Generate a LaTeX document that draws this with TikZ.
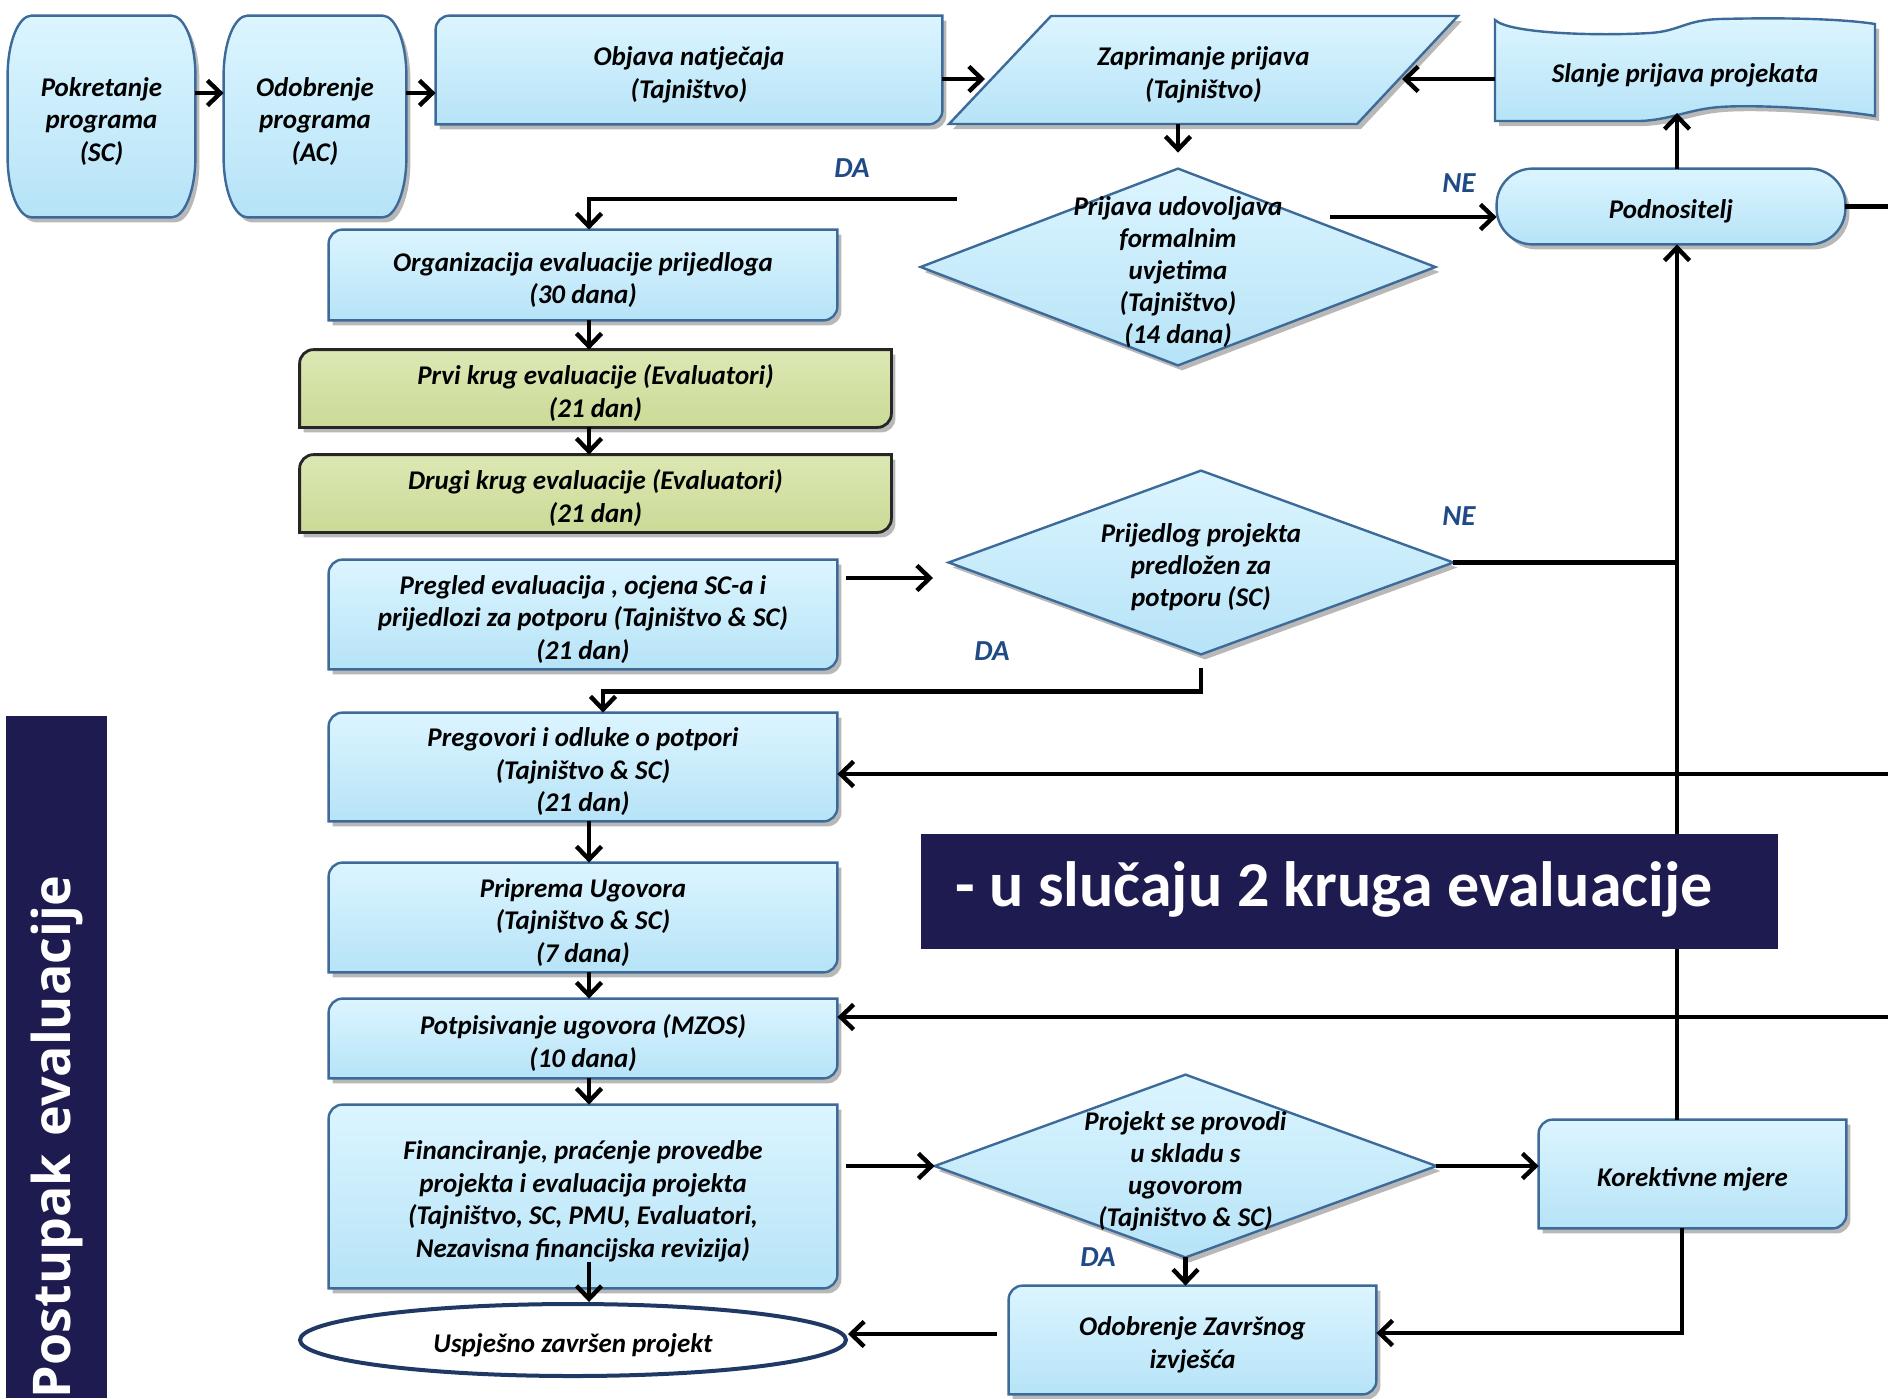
\documentclass[tikz,border=0pt]{standalone}
\usepackage{fontspec}
\setmainfont{Carlito}
\newfontfamily\bannerfont{Open Sans}
\usetikzlibrary{arrows.meta,shapes.geometric,backgrounds,calc}
\definecolor{boxtop}{HTML}{DCF5FF}
\definecolor{boxbot}{HTML}{B6E3F7}
\definecolor{boxline}{HTML}{3D6B99}
\definecolor{greentop}{HTML}{DCE8B4}
\definecolor{greenbot}{HTML}{CADA96}
\definecolor{navy}{HTML}{1E1B50}
\definecolor{labc}{HTML}{1F4A86}
\definecolor{ellline}{HTML}{1F3864}
\newcommand{\rdbox}[2]{\path[#2] ([yshift=-7pt]#1.north west) arc[start angle=180,end angle=90,radius=7pt] -- (#1.north east) -- ([yshift=7pt]#1.south east) arc[start angle=0,end angle=-90,radius=7pt] -- (#1.south west) -- cycle;}
\newcommand{\barrelbox}[2]{\path[#2] ([xshift=12pt]#1.north west) -- ([xshift=-12pt]#1.north east) arc[start angle=90,end angle=0,x radius=12pt,y radius=30pt] -- ([yshift=30pt]#1.south east) arc[start angle=0,end angle=-90,x radius=12pt,y radius=30pt] -- ([xshift=12pt]#1.south west) arc[start angle=270,end angle=180,x radius=12pt,y radius=30pt] -- ([yshift=-30pt]#1.north west) arc[start angle=180,end angle=90,x radius=12pt,y radius=30pt] -- cycle;}
\newcommand{\diabox}[2]{\path[#2] (#1.west) -- (#1.north) -- (#1.east) -- (#1.south) -- cycle;}
\newcommand{\tp}{\rule{0pt}{14.5pt}}
\begin{document}
\begin{tikzpicture}[x=0.5pt,y=-0.5pt,
  txt/.style={inner sep=0pt, align=center, font=\bfseries\itshape\fontsize{13.5}{16.25}\selectfont},
  dtxt/.style={inner sep=0pt, align=center, font=\bfseries\itshape\fontsize{13.5}{16}\selectfont},
  sh/.style={preaction={fill=black,opacity=0.28,transform canvas={xshift=2pt,yshift=-2.5pt}}},
  bluebox/.style={sh, draw=boxline, line width=1.2pt, top color=boxtop, bottom color=boxbot},
  greenbox/.style={sh, draw=black!85, line width=1.4pt, top color=greentop, bottom color=greenbot},
  arr/.style={line width=2.2pt, -{Straight Barb[length=6.5pt,width=12.5pt]}},
  ln/.style={line width=2.2pt},
  lab/.style={inner sep=0pt, text=labc, font=\bfseries\itshape\fontsize{14.5}{17}\selectfont}]
\useasboundingbox (0,0) rectangle (1888,1398);

% ---------- nodes (text) ----------
\node[txt, minimum width=93.5pt, minimum height=100.5pt] (pok) at (101.5,116.5) {\tp Pokretanje\\programa\\(SC)};
\node[txt, minimum width=91pt, minimum height=100.5pt] (odo) at (315,116.5) {\tp Odobrenje\\programa\\(AC)};
\node[txt, minimum width=253pt, minimum height=54pt] (obj) at (689,70) {\tp Objava natječaja\\(Tajništvo)};
\node[txt, minimum width=204pt, minimum height=54pt] (zap) at (1203.5,70) {\tp Zaprimanje prijava\\(Tajništvo)};
\node[txt, minimum width=190pt, minimum height=50pt] (sla) at (1685,70) {\tp Slanje prijava projekata};
\node[dtxt, minimum width=257pt, minimum height=98pt] (d1) at (1178,267) {\tp Prijava udovoljava\\formalnim\\uvjetima\\(Tajništvo)\\(14 dana)};
\node[txt, minimum width=174pt, minimum height=37.5pt] (pod) at (1671,206.5) {\tp Podnositelj};
\node[txt, minimum width=254pt, minimum height=45pt] (org) at (583,275) {\tp Organizacija evaluacije prijedloga\\(30 dana)};
\node[txt, minimum width=295.5pt, minimum height=38.5pt] (prvi) at (595.5,388.5) {\tp Prvi krug evaluacije (Evaluatori)\\(21 dan)};
\node[txt, minimum width=295.5pt, minimum height=38.5pt] (drugi) at (595.5,493.5) {\tp Drugi krug evaluacije (Evaluatori)\\(21 dan)};
\node[txt, minimum width=254pt, minimum height=54.5pt] (preg) at (583,614.5) {\tp Pregled evaluacija , ocjena SC-a i\\prijedlozi za potporu (Tajništvo \& SC)\\(21 dan)};
\node[dtxt, minimum width=252pt, minimum height=91.5pt] (d2) at (1201,562.5) {\tp Prijedlog projekta\\predložen za\\potporu (SC)};
\node[txt, minimum width=254pt, minimum height=54pt] (pregov) at (583,767) {\tp Pregovori i odluke o potpori\\(Tajništvo \& SC)\\(21 dan)};
\node[txt, minimum width=254pt, minimum height=54.5pt] (pripr) at (583,917.5) {\tp Priprema Ugovora\\(Tajništvo \& SC)\\(7 dana)};
\node[txt, minimum width=254pt, minimum height=39.5pt] (potp) at (583,1038.5) {\tp Potpisivanje ugovora (MZOS)\\(10 dana)};
\node[txt, minimum width=254pt, minimum height=91.5pt] (fin) at (583,1196.5) {\tp Financiranje, praćenje provedbe\\projekta i evaluacija projekta\\(Tajništvo, SC, PMU, Evaluatori,\\Nezavisna financijska revizija)};
\node[txt, ellipse, draw=ellline, line width=2pt, fill=white, minimum width=273pt, minimum height=36pt] (usp) at (573,1340) {\tp Uspješno završen projekt};
\node[dtxt, minimum width=250.5pt, minimum height=91pt] (d3) at (1185.5,1166) {\tp Projekt se provodi\\u skladu s\\ugovorom\\(Tajništvo \& SC)};
\node[txt, minimum width=153.5pt, minimum height=54pt] (kor) at (1692.5,1174) {\tp Korektivne mjere};
\node[txt, minimum width=183.5pt, minimum height=54pt] (zav) at (1192.5,1340) {\tp Odobrenje Završnog\\izvješća};

% ---------- shapes behind the text ----------
\begin{scope}[on background layer]
  \barrelbox{pok}{bluebox}
  \barrelbox{odo}{bluebox}
  \rdbox{obj}{bluebox}
  \path[bluebox] (1051,16) -- (1458,16) -- (1357,124) -- (949,124) -- cycle;
  \path[bluebox] (1495,20) .. controls (1510,34) and (1600,36) .. (1650,33) .. controls (1680,31) and (1685,20) .. (1720,19) .. controls (1800,17) and (1850,20) .. (1875,24) -- (1875,116) .. controls (1840,110) and (1760,104) .. (1720,107) .. controls (1690,109) and (1670,120) .. (1640,121) -- (1495,121) -- cycle;
  \diabox{d1}{bluebox}
  \path[bluebox, rounded corners=18pt] (pod.north west) rectangle (pod.south east);
  \rdbox{org}{bluebox}
  \rdbox{prvi}{greenbox}
  \rdbox{drugi}{greenbox}
  \rdbox{preg}{bluebox}
  \diabox{d2}{bluebox}
  \rdbox{pregov}{bluebox}
  \rdbox{pripr}{bluebox}
  \rdbox{potp}{bluebox}
  \rdbox{fin}{bluebox}
  \diabox{d3}{bluebox}
  \rdbox{kor}{bluebox}
  \rdbox{zav}{bluebox}
\end{scope}

% ---------- connectors ----------
\coordinate (colx) at (589,0);
\coordinate (vline) at (1677,0);
\draw[arr] (pok.east |- 0,93) -- (odo.west |- 0,93);
\draw[arr] (odo.east |- 0,93) -- (obj.west |- 0,93);
\coordinate (zapW) at (985,79);
\coordinate (zapE) at (1402,79);
\draw[arr] (obj.east |- zapW) -- (zapW);
\draw[arr] (sla.west |- zapE) -- (zapE);
\draw[arr] (d1.north |- zap.south) -- ([yshift=8pt]d1.north);
\coordinate (daS) at (957,199);
\draw[arr] (daS) -| (org.north -| colx);
\coordinate (neS) at (1330,217);
\draw[arr] (neS) -- (pod.west |- neS);
\coordinate (slaB) at (1677,113);
\draw[arr] (pod.north -| vline) -- (slaB);
\coordinate (podR) at (1888,206.5);
\draw[ln] (pod.east) -- (podR);
\draw[arr] (kor.north -| vline) -- (pod.south -| vline);
\draw[ln] (d2.east) -- (d2.east -| vline);
\draw[arr] (org.south -| colx) -- (prvi.north -| colx);
\draw[arr] (prvi.south -| colx) -- (drugi.north -| colx);
\coordinate (pgA) at (846,578);
\coordinate (d2A) at (933,578);
\draw[arr] (pgA) -- (d2A);
\draw[arr] ([yshift=-7pt]d2.south) -- ++(0,23) -| ([xshift=10pt]pregov.north);
\draw[arr] (pregov.south -| colx) -- (pripr.north -| colx);
\draw[arr] (pripr.south -| colx) -- (potp.north -| colx);
\draw[arr] (potp.south -| colx) -- (fin.north -| colx);
\coordinate (finB) at (589,1262);
\draw[arr] (finB) -- (usp.north -| colx);
\coordinate (r1) at (1888,774);
\draw[arr] (r1) -- (pregov.east |- r1);
\coordinate (r2) at (1888,1017);
\draw[arr] (r2) -- (potp.east |- r2);
\coordinate (finA) at (846,0);
\draw[arr] (d3.west -| finA) -- (d3.west);
\draw[arr] (d3.east) -- (kor.west |- d3.east);
\draw[arr] (d3.south) -- (d3.south |- zav.north);
\coordinate (kx) at (1682,1333);
\draw[arr] (kor.south -| kx) -- (kx) -- (zav.east |- kx);
\coordinate (zvA) at (997,1334);
\draw[arr] (zvA) -- (usp.east |- zvA);

% ---------- labels ----------
\node[lab] (da1) at (852,168) {DA};
\node[lab] (ne1) at (1459,183) {NE};
\node[lab] (ne2) at (1459,516) {NE};
\node[lab] (da2) at (992,651) {DA};
\node[lab] (da3) at (1098,1257) {DA};

% ---------- banners ----------
\node[fill=navy, anchor=north west, minimum width=428.5pt, minimum height=57.5pt, inner sep=0pt] (banner) at (921,834) {};
\node[anchor=base west, inner sep=0pt, text=white, font=\bfseries\fontsize{32}{36}\selectfont] (bannertxt) at (955,906) {- u slučaju 2 kruga evaluacije};
\node[rotate=90, fill=navy, minimum width=341pt, minimum height=50.5pt, text width=341pt, inner sep=0pt, align=left, text=white, font=\bannerfont\bfseries\fontsize{26}{30}\selectfont] (side) at (56.5,1057) {Postupak evaluacije};
\end{tikzpicture}
\end{document}
